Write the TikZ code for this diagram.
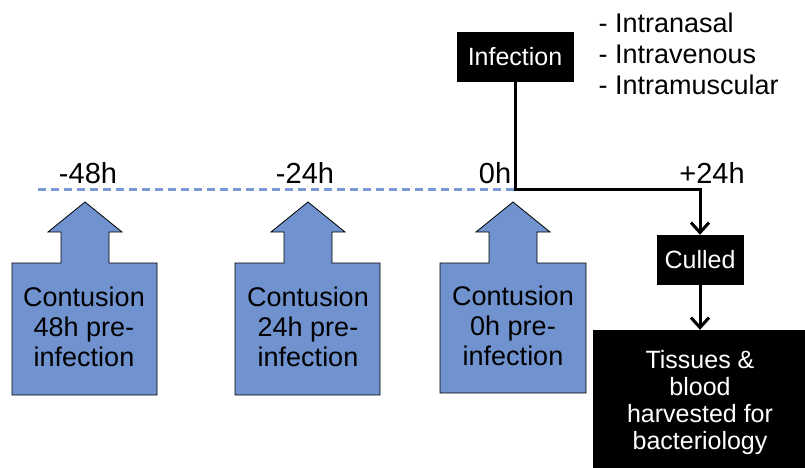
\documentclass[tikz,border=0pt]{standalone}
\usepackage{fontspec}
\setmainfont{Liberation Sans}
\usetikzlibrary{arrows.meta}
\definecolor{contblue}{RGB}{112,146,206}
\definecolor{lineblue}{RGB}{122,153,212}
\begin{document}
\begin{tikzpicture}[
    x=1pt, y=-1pt,
    event/.style={fill=black, text=white, inner sep=0pt, align=center},
    contusion/.style={fill=contblue, draw=black, line width=0.8pt},
    conttext/.style={align=center, font=\fontsize{27}{30}\selectfont},
    hour/.style={font=\fontsize{29}{32}\selectfont},
    link/.style={line width=3pt, -{Straight Barb[length=10pt,width=18pt]}}
]
\useasboundingbox (0,0) rectangle (805,468);

% timeline
\coordinate (start) at (38,189);
\coordinate (zero) at (515,189);
\coordinate (plus24) at (700,189);
\draw[lineblue, line width=3pt, dash pattern=on 8pt off 5pt] (start) -- (zero);

\node[hour] (h48) at (88,173) {-48h};
\node[hour] (h24) at (305,173) {-24h};
\node[hour] (h0) at (495,173) {0h};
\node[hour] (hp24) at (712,173) {+24h};

% contusion arrows
\draw[contusion] (85,202) -- ++(37,30) -- ++(-13,0) -- ++(0,31) -- ++(48,0) -- ++(0,132)
    -- ++(-145,0) -- ++(0,-132) -- ++(49,0) -- ++(0,-31) -- ++(-13,0) -- cycle;
\draw[contusion] (308,202) -- ++(37,30) -- ++(-13,0) -- ++(0,31) -- ++(48,0) -- ++(0,132)
    -- ++(-145,0) -- ++(0,-132) -- ++(49,0) -- ++(0,-31) -- ++(-13,0) -- cycle;
\draw[contusion] (513,202) -- ++(37,30) -- ++(-13,0) -- ++(0,31) -- ++(49,0) -- ++(0,130)
    -- ++(-146,0) -- ++(0,-130) -- ++(49,0) -- ++(0,-31) -- ++(-13,0) -- cycle;

\node[conttext] (cont48) at (84,327) {Contusion\\48h pre-\\infection};
\node[conttext] (cont24) at (308,327) {Contusion\\24h pre-\\infection};
\node[conttext] (cont0) at (513,326) {Contusion\\0h pre-\\infection};

% infection and outcome
\node[event, minimum width=117pt, minimum height=50pt, font=\fontsize{25}{28}\selectfont] (infection) at (515,57) {Infection};
\node[anchor=west, align=left, font=\fontsize{27}{31}\selectfont] (routes) at (595,54)
    {- Intranasal\\- Intravenous\\- Intramuscular};
\node[event, minimum width=87pt, minimum height=50pt, font=\fontsize{25}{28}\selectfont] (culled) at (700,260) {Culled};
\node[event, minimum width=214pt, minimum height=140pt, font=\fontsize{25}{27}\selectfont] (tissues) at (700,400) {};
\node[text=white, align=center, font=\fontsize{25}{27}\selectfont] (tissuetext) at (700,403)
    {Tissues \&\\blood\\harvested for\\bacteriology};

\draw[link] (infection.south) |- (plus24) -- (culled.north);
\draw[link] (culled.south) -- (tissues.north);

\end{tikzpicture}
\end{document}
